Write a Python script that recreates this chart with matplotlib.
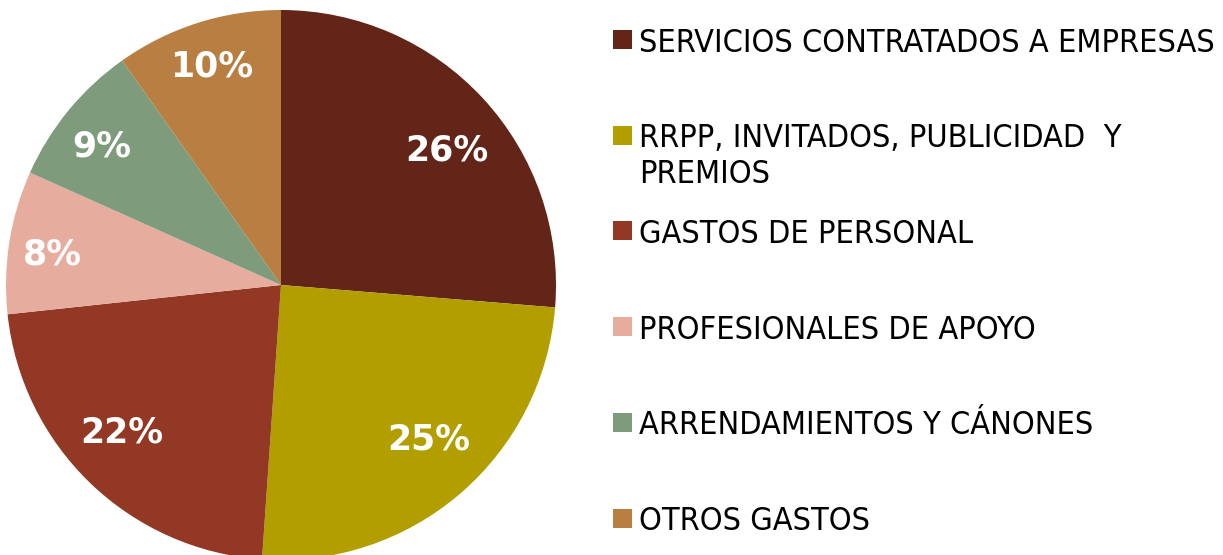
import matplotlib
matplotlib.use("Agg")
import matplotlib.pyplot as plt
from matplotlib.patches import Rectangle
import numpy as np

categories = [
    "SERVICIOS CONTRATADOS A EMPRESAS",
    "RRPP, INVITADOS, PUBLICIDAD  Y\nPREMIOS",
    "GASTOS DE PERSONAL",
    "PROFESIONALES DE APOYO",
    "ARRENDAMIENTOS Y CÁNONES",
    "OTROS GASTOS",
]
values = [26.3, 24.8, 22.2, 8.4, 8.5, 9.8]
pct_labels = ["26%", "25%", "22%", "8%", "9%", "10%"]
colors = ["#632518", "#B39E00", "#923825", "#E6AD9E", "#7E9B7C", "#B87E42"]
label_radius = [0.777, 0.779, 0.79, 0.84, 0.824, 0.835]
label_shift = [-3.5, 3.0, -3.2, 1.5, 1.6, 0.0]

W, H = 1223, 555
fig = plt.figure(figsize=(W / 100, H / 100), dpi=100)
fig.patch.set_facecolor("white")

cx, cy, r = 281, 285, 275
ax = fig.add_axes([(cx - r) / W, (H - cy - r) / H, 2 * r / W, 2 * r / H])
wedges, _ = ax.pie(values, colors=colors, startangle=90, counterclock=False,
                   radius=1.0, wedgeprops=dict(linewidth=0))
for w, lab, lr, sh in zip(wedges, pct_labels, label_radius, label_shift):
    ang = np.deg2rad((w.theta1 + w.theta2) / 2 + sh)
    ax.text(lr * np.cos(ang), lr * np.sin(ang), lab, ha="center", va="center",
            color="white", fontsize=25, fontweight="bold", family="DejaVu Sans")
ax.set_xlim(-1, 1)
ax.set_ylim(-1, 1)
ax.set_aspect("equal")
ax.axis("off")

# legend
x_sq, sq = 613, 19
x_txt = 639
y0, step = 39.5, 95.7
fs = 23.2
for i, (lab, col) in enumerate(zip(categories, colors)):
    yc = y0 + step * i
    fig.patches.append(Rectangle((x_sq / W, (H - yc - sq / 2) / H), sq / W, sq / H,
                                 transform=fig.transFigure, facecolor=col, edgecolor="none"))
    lines = lab.split("\n")
    for j, line in enumerate(lines):
        fig.text(x_txt / W, (H - yc - 36 * j) / H, line, ha="left", va="center_baseline",
                 fontsize=fs, family="DejaVu Sans", fontstretch="condensed", color="black")

fig.savefig("out.png", dpi=100, facecolor="white")
